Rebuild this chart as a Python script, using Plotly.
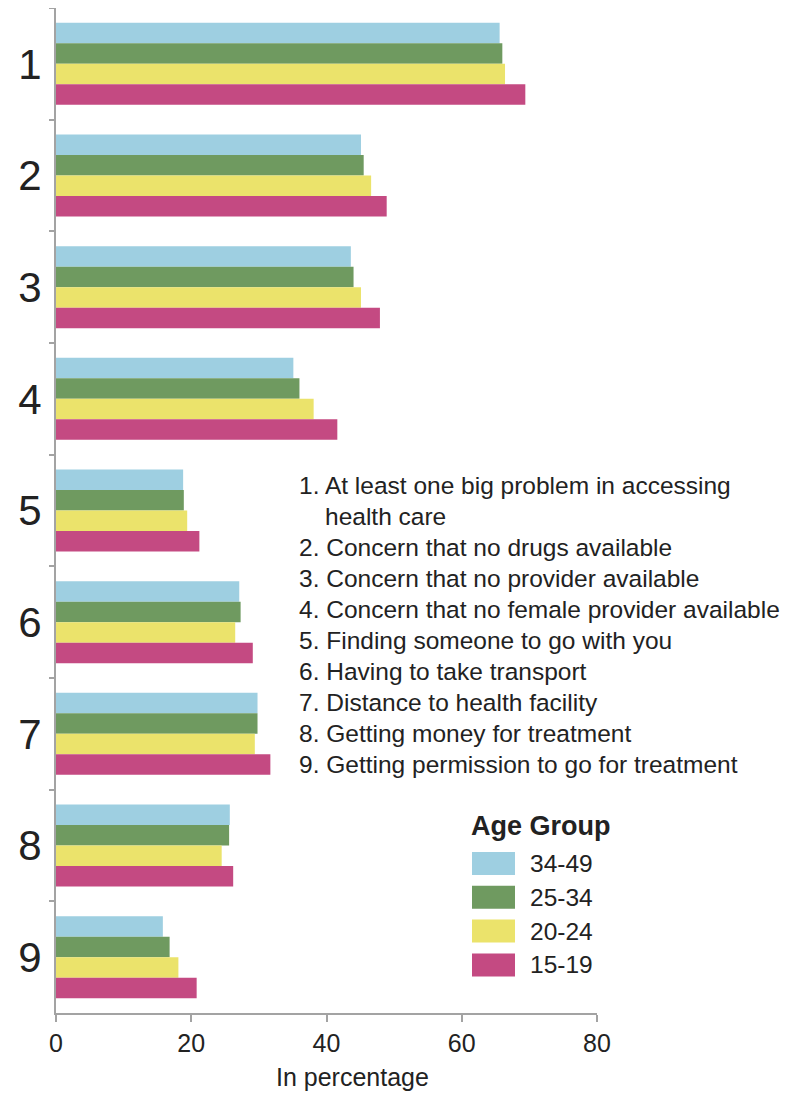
import plotly.graph_objects as go

# ---------------- data ----------------
categories = ["1", "2", "3", "4", "5", "6", "7", "8", "9"]
descriptions = [
    "At least one big problem in accessing|health care",
    "Concern that no drugs available",
    "Concern that no provider available",
    "Concern that no female provider available",
    "Finding someone to go with you",
    "Having to take transport",
    "Distance to health facility",
    "Getting money for treatment",
    "Getting permission to go for treatment",
]
series_names = ["34-49", "25-34", "20-24", "15-19"]
v_34_49 = [65.6, 45.1, 43.6, 35.1, 18.8, 27.1, 29.8, 25.7, 15.8]
v_25_34 = [66.0, 45.5, 44.0, 36.0, 18.9, 27.3, 29.8, 25.6, 16.8]
v_20_24 = [66.4, 46.6, 45.1, 38.1, 19.4, 26.5, 29.4, 24.5, 18.1]
v_15_19 = [69.4, 48.9, 47.9, 41.6, 21.2, 29.1, 31.7, 26.2, 20.8]
series_values = [v_34_49, v_25_34, v_20_24, v_15_19]
x_ticks = [0, 20, 40, 60, 80]
x_title = "In percentage"
legend_title = "Age Group"

# ---------------- style ----------------
colors = ["#9ecfe1", "#6f9a60", "#ebe36b", "#c44a82"]
FONT = "Liberation Sans, Arial, sans-serif"
TXT = "#222222"
AXC = "#a3a3a3"
PAGE_W, PAGE_H = 796, 1095
BODY = 8  # default page margin around the figure div
W, H = PAGE_W - BODY, PAGE_H - BODY
# plot area in page pixels
PL, PR, PT, PB = 56, 597, 8, 1013


def px(x):
    return (x - PL) / (PR - PL)


def py(y):
    return (PB - y) / (PB - PT)


fig = go.Figure()
for name, vals, col in zip(series_names, series_values, colors):
    fig.add_trace(go.Bar(
        y=categories, x=vals, name=name, orientation="h",
        marker=dict(color=col, line=dict(width=0)),
        showlegend=False,
    ))

annotations = []
shapes = []

# description list
line_y = 485
pitch = 31.1
for i, d in enumerate(descriptions):
    parts = d.split("|")
    for j, p in enumerate(parts):
        txt = f"{categories[i]}. {p}" if j == 0 else p
        x0 = 297 if j == 0 else 323
        annotations.append(dict(
            xref="paper", yref="paper", x=px(x0), y=py(line_y),
            xanchor="left", yanchor="middle", showarrow=False,
            text=txt, font=dict(family=FONT, size=24.5, color=TXT),
        ))
        line_y += pitch

# custom legend
annotations.append(dict(
    xref="paper", yref="paper", x=px(469), y=py(826),
    xanchor="left", yanchor="middle", showarrow=False,
    text=f"<b>{legend_title}</b>", font=dict(family=FONT, size=27, color=TXT),
))
for k, (name, col) in enumerate(zip(series_names, colors)):
    cy = 863.5 + k * 33.8
    shapes.append(dict(
        type="rect", xref="paper", yref="paper",
        x0=px(472), x1=px(515), y0=py(cy - 11.5), y1=py(cy + 11.5),
        fillcolor=col, line=dict(width=0),
    ))
    annotations.append(dict(
        xref="paper", yref="paper", x=px(528), y=py(cy),
        xanchor="left", yanchor="middle", showarrow=False,
        text=name, font=dict(family=FONT, size=24.5, color=TXT),
    ))

# x-axis title
annotations.append(dict(
    xref="paper", yref="paper", x=px(352), y=py(1077),
    xanchor="center", yanchor="middle", showarrow=False,
    text=x_title, font=dict(family=FONT, size=25, color=TXT),
))

fig.update_layout(
    width=W, height=H,
    margin=dict(l=PL - BODY, r=PAGE_W - PR, t=PT - BODY, b=PAGE_H - PB, pad=0),
    paper_bgcolor="white", plot_bgcolor="white",
    barmode="group", bargap=0.266, bargroupgap=0,
    showlegend=False,
    annotations=annotations, shapes=shapes,
    font=dict(family=FONT, color=TXT),
)
fig.update_xaxes(
    range=[0, 80], tickmode="array", tickvals=x_ticks,
    ticktext=[str(t) for t in x_ticks],
    ticks="outside", ticklen=7, tickwidth=2, tickcolor=AXC,
    showline=True, linecolor=AXC, linewidth=2,
    showgrid=False, zeroline=False,
    tickfont=dict(family=FONT, size=25, color=TXT),
)
fig.update_yaxes(
    type="category", categoryorder="array", categoryarray=categories,
    range=[8.5, -0.5],
    ticks="outside", tickson="boundaries", ticklen=5, tickwidth=2, tickcolor=AXC,
    showline=True, linecolor=AXC, linewidth=2,
    showgrid=False, zeroline=False,
    tickfont=dict(family=FONT, size=42, color=TXT),
    ticklabelstandoff=4,
)

fig.write_html("out.html")
